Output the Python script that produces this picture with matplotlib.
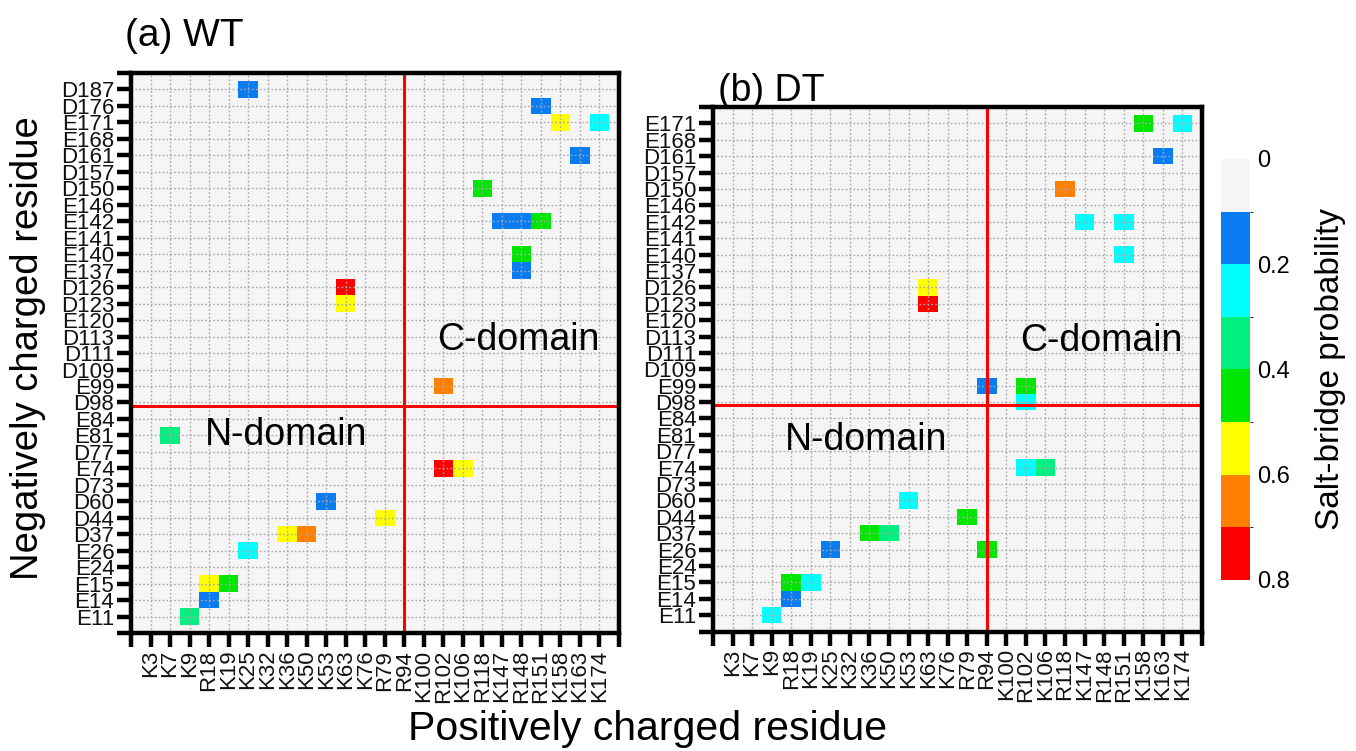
import numpy as np
import matplotlib

matplotlib.use("Agg")
import matplotlib.pyplot as plt
from matplotlib.colors import BoundaryNorm, ListedColormap

plt.rcParams["font.family"] = ["Liberation Sans", "DejaVu Sans"]

# positively charged residues (x axis), same for both panels
pos_residues = [
    "K3", "K7", "K9", "R18", "K19", "K25", "K32", "K36", "K50", "K53", "K63", "K76",
    "R79", "R94", "K100", "R102", "K106", "R118", "K147", "R148", "R151", "K158",
    "K163", "K174",
]
# negatively charged residues (y axis), bottom to top
neg_residues_wt = [
    "E11", "E14", "E15", "E24", "E26", "D37", "D44", "D60", "D73", "E74", "D77",
    "E81", "E84", "D98", "E99", "D109", "D111", "D113", "E120", "D123", "D126",
    "E137", "E140", "E141", "E142", "E146", "D150", "D157", "D161", "E168", "E171",
    "D176", "D187",
]
neg_residues_dt = [
    "E11", "E14", "E15", "E24", "E26", "D37", "D44", "D60", "D73", "E74", "D77",
    "E81", "E84", "D98", "E99", "D109", "D111", "D113", "E120", "D123", "D126",
    "E137", "E140", "E141", "E142", "E146", "D150", "D157", "D161", "E168", "E171",
]

# (positive residue, negative residue, salt-bridge probability)
wt_pairs = [
    ("K9", "E11", 0.35), ("R18", "E14", 0.15), ("R18", "E15", 0.55),
    ("K19", "E15", 0.45), ("K25", "E26", 0.25), ("K36", "D37", 0.55),
    ("K50", "D37", 0.65), ("R79", "D44", 0.55), ("K53", "D60", 0.15),
    ("R102", "E74", 0.75), ("K106", "E74", 0.55), ("K7", "E81", 0.35),
    ("R102", "E99", 0.65), ("K63", "D123", 0.55), ("K63", "D126", 0.75),
    ("R148", "E137", 0.15), ("R148", "E140", 0.45), ("K147", "E142", 0.15),
    ("R148", "E142", 0.15), ("R151", "E142", 0.45), ("R118", "D150", 0.45),
    ("K163", "D161", 0.15), ("K158", "E171", 0.55), ("K174", "E171", 0.25),
    ("R151", "D176", 0.15), ("K25", "D187", 0.15),
]
dt_pairs = [
    ("K9", "E11", 0.25), ("R18", "E14", 0.15), ("R18", "E15", 0.45),
    ("K19", "E15", 0.25), ("K25", "E26", 0.15), ("R94", "E26", 0.45),
    ("K36", "D37", 0.45), ("K50", "D37", 0.35), ("R79", "D44", 0.45),
    ("K53", "D60", 0.25), ("R102", "E74", 0.25), ("K106", "E74", 0.35),
    ("R102", "D98", 0.25), ("R94", "E99", 0.15), ("R102", "E99", 0.45),
    ("K63", "D123", 0.75), ("K63", "D126", 0.55), ("R151", "E140", 0.25),
    ("K147", "E142", 0.25), ("R151", "E142", 0.25), ("R118", "D150", 0.65),
    ("K163", "D161", 0.15), ("K158", "E171", 0.45), ("K174", "E171", 0.25),
]

prob_bounds = [0.0, 0.1, 0.2, 0.3, 0.4, 0.5, 0.6, 0.7, 0.8]
prob_colors = ["#f5f5f5", "#0a7cf2", "#00ffff", "#00f080", "#00e600",
               "#ffff00", "#ff8000", "#ff0000"]
cbar_ticks = [0.0, 0.2, 0.4, 0.6, 0.8]
cbar_ticklabels = ["0", "0.2", "0.4", "0.6", "0.8"]

cmap = ListedColormap(prob_colors)
norm = BoundaryNorm(prob_bounds, cmap.N)


def build_matrix(pairs, neg_residues):
    mat = np.zeros((len(neg_residues), len(pos_residues)))
    for pos, neg, value in pairs:
        mat[neg_residues.index(neg), pos_residues.index(pos)] = value
    return mat


def draw_panel(ax, pairs, neg_residues):
    mat = build_matrix(pairs, neg_residues)
    nx, ny = len(pos_residues), len(neg_residues)
    ax.set_facecolor("#f5f5f5")
    mesh = ax.pcolormesh(np.arange(nx + 1) + 0.5, np.arange(ny + 1) + 0.5, mat,
                         cmap=cmap, norm=norm)
    ax.set_xlim(0, nx + 1)
    ax.set_ylim(0, ny + 1)
    ax.set_xticks(np.arange(nx + 2))
    ax.set_xticklabels([""] + pos_residues + [""], rotation=90)
    ax.set_yticks(np.arange(ny + 2))
    ax.set_yticklabels([""] + neg_residues + [""])
    ax.tick_params(direction="out", length=10, width=3.2, labelsize=16, pad=2,
                   labelcolor="#111111")
    for spine in ax.spines.values():
        spine.set_linewidth(3.2)
    ax.grid(True, color="#a8a8a8", linestyle=(0, (1.2, 1.6)), linewidth=1.0)
    ax.axvline(pos_residues.index("R94") + 1, color="red", lw=2.2)
    ax.axhline(neg_residues.index("D98") + 0.8, color="red", lw=2.2)
    return mesh


fig = plt.figure(figsize=(13.56, 7.51), dpi=100)
ax_wt = fig.add_axes([0.0966, 0.157, 0.3599, 0.7458])
ax_dt = fig.add_axes([0.5258, 0.159, 0.3606, 0.6985])

mesh = draw_panel(ax_wt, wt_pairs, neg_residues_wt)
draw_panel(ax_dt, dt_pairs, neg_residues_dt)

ax_wt.text(3.8, 12, "N-domain", fontsize=27, va="center")
ax_wt.text(15.7, 17.8, "C-domain", fontsize=27, va="center")
ax_dt.text(3.7, 11.7, "N-domain", fontsize=27, va="center")
ax_dt.text(15.7, 17.7, "C-domain", fontsize=27, va="center")

fig.text(125 / 1356, 1 - 46 / 751, "(a) WT", fontsize=28, va="baseline")
fig.text(718 / 1356, 1 - 101 / 751, "(b) DT", fontsize=27, va="baseline")
fig.text(408 / 1356, 0.014, "Positively charged residue", fontsize=29.5,
         va="baseline")
fig.text(0.021, 0.537, "Negatively charged residue", fontsize=27.5,
         rotation=90, ha="center", va="center")

cax = fig.add_axes([0.9004, 0.2277, 0.0214, 0.5606])
cb = fig.colorbar(mesh, cax=cax, ticks=cbar_ticks)
cax.invert_yaxis()
cb.outline.set_visible(False)
cb.set_ticklabels(cbar_ticklabels)
cax.tick_params(length=0, labelsize=17, pad=5)
cb.set_label("Salt-bridge probability", fontsize=24, labelpad=18)

fig.savefig("out.png", dpi=100)
